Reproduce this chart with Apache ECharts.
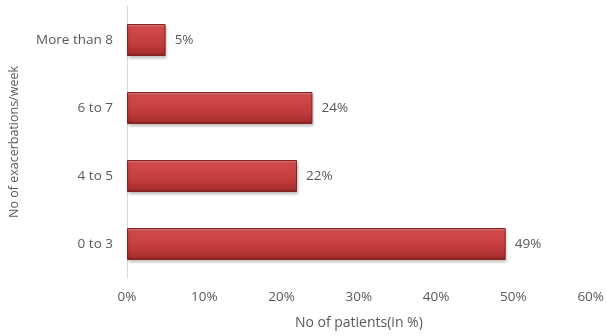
<!DOCTYPE html>
<html><head><meta charset="utf-8">
<script src="https://cdn.jsdelivr.net/npm/echarts@6/dist/echarts.min.js"></script>
<style>html,body{margin:0;padding:0;background:#fff}#c{width:607px;height:336px}</style>
</head><body><div id="c"></div>
<script>
const categories = ["0 to 3", "4 to 5", "6 to 7", "More than 8"];
const values = [49, 22, 24, 5];
const xTicks = [0, 10, 20, 30, 40, 50, 60];

const font = '"Open Sans", "Noto Sans", sans-serif';
const chart = echarts.init(document.getElementById('c'));
chart.setOption({
  animation: false,
  grid: { left: 126, right: 15, top: 6, bottom: 58, containLabel: false },
  xAxis: {
    type: 'value', min: 0, max: 60, interval: 10,
    name: 'No of patients(in %)', nameLocation: 'middle', nameGap: 38,
    nameTextStyle: { color: '#595959', fontSize: 14, fontFamily: font },
    axisLine: { show: false }, axisTick: { show: false }, splitLine: { show: false },
    axisLabel: { color: '#595959', fontSize: 13.5, fontFamily: font, margin: 12,
      formatter: v => xTicks.includes(v) ? v + '%' : '' }
  },
  yAxis: {
    type: 'category', data: categories,
    name: 'No of exacerbations/week', nameLocation: 'middle', nameGap: 106,
    nameTextStyle: { color: '#595959', fontSize: 12.5, fontFamily: font },
    axisLine: { show: true, lineStyle: { color: '#d9d9d9', width: 1 } },
    axisTick: { show: false },
    axisLabel: { color: '#595959', fontSize: 13.5, fontFamily: font, margin: 14 }
  },
  series: [{
    type: 'bar', data: values, barWidth: 32,
    itemStyle: {
      color: new echarts.graphic.LinearGradient(0, 0, 0, 1, [
        { offset: 0, color: '#ec8585' },
        { offset: 0.12, color: '#d24a4b' },
        { offset: 0.6, color: '#c43d3e' },
        { offset: 0.9, color: '#aa2f30' },
        { offset: 1, color: '#7e1c1d' }
      ]),
      borderColor: '#8a2223', borderWidth: 1,
      shadowColor: 'rgba(0,0,0,0.25)', shadowBlur: 3, shadowOffsetX: 1, shadowOffsetY: 2
    },
    label: { show: true, position: 'right', distance: 9, formatter: '{c}%',
      color: '#595959', fontSize: 13.5, fontFamily: font }
  }]
});
</script></body></html>
